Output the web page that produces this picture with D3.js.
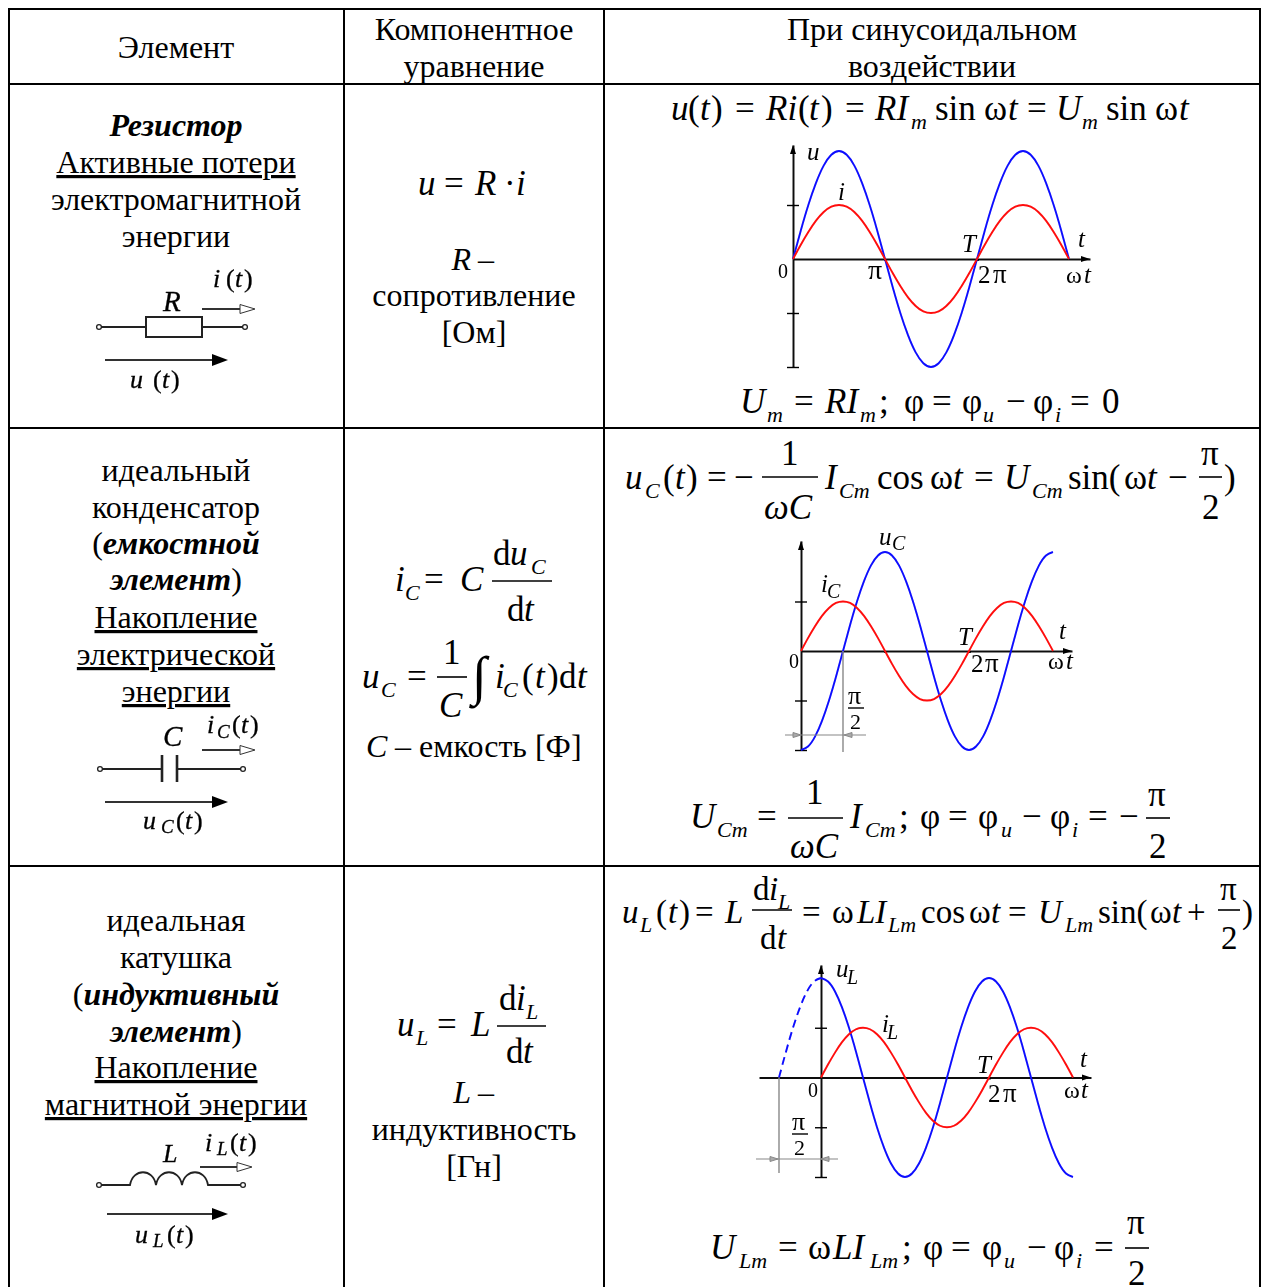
<!DOCTYPE html>
<html>
<head>
<meta charset="utf-8">
<script src="https://cdn.jsdelivr.net/npm/d3@7"></script>
<style>
    html, body { margin: 0; padding: 0; background: #fff; overflow: hidden; }
    text { font-family: "Liberation Serif", serif; fill: #000; }
</style>
</head>
<body>
<div id="wrapper"></div>
<script>
// DATA //
const phaseFull = [0, 15, 30, 45, 60, 75, 90, 105, 120, 135, 150, 165, 180, 195, 210, 225, 240, 255, 270, 285, 300, 315, 330, 345, 360, 375, 390, 405, 420, 435, 450, 465, 480, 495, 510, 525, 540]
const phaseLead = [-90, -75, -60, -45, -30, -15, 0]

const uResistor = [0, 0.52, 1, 1.41, 1.73, 1.93, 2, 1.93, 1.73, 1.41, 1, 0.52, 0, -0.52, -1, -1.41, -1.73, -1.93, -2, -1.93, -1.73, -1.41, -1, -0.52, 0, 0.52, 1, 1.41, 1.73, 1.93, 2, 1.93, 1.73, 1.41, 1, 0.52, 0]
const iResistor = [0, 0.26, 0.5, 0.71, 0.87, 0.97, 1, 0.97, 0.87, 0.71, 0.5, 0.26, 0, -0.26, -0.5, -0.71, -0.87, -0.97, -1, -0.97, -0.87, -0.71, -0.5, -0.26, 0, 0.26, 0.5, 0.71, 0.87, 0.97, 1, 0.97, 0.87, 0.71, 0.5, 0.26, 0]

const uCapacitor = [-2, -1.93, -1.73, -1.41, -1, -0.52, 0, 0.52, 1, 1.41, 1.73, 1.93, 2, 1.93, 1.73, 1.41, 1, 0.52, 0, -0.52, -1, -1.41, -1.73, -1.93, -2, -1.93, -1.73, -1.41, -1, -0.52, 0, 0.52, 1, 1.41, 1.73, 1.93, 2]
const iCapacitor = [0, 0.26, 0.5, 0.71, 0.87, 0.97, 1, 0.97, 0.87, 0.71, 0.5, 0.26, 0, -0.26, -0.5, -0.71, -0.87, -0.97, -1, -0.97, -0.87, -0.71, -0.5, -0.26, 0, 0.26, 0.5, 0.71, 0.87, 0.97, 1, 0.97, 0.87, 0.71, 0.5, 0.26, 0]

const uInductor = [2, 1.93, 1.73, 1.41, 1, 0.52, 0, -0.52, -1, -1.41, -1.73, -1.93, -2, -1.93, -1.73, -1.41, -1, -0.52, 0, 0.52, 1, 1.41, 1.73, 1.93, 2, 1.93, 1.73, 1.41, 1, 0.52, 0, -0.52, -1, -1.41, -1.73, -1.93, -2]
const uInductorLead = [0, 0.52, 1, 1.41, 1.73, 1.93, 2]
const iInductor = [0, 0.26, 0.5, 0.71, 0.87, 0.97, 1, 0.97, 0.87, 0.71, 0.5, 0.26, 0, -0.26, -0.5, -0.71, -0.87, -0.97, -1, -0.97, -0.87, -0.71, -0.5, -0.26, 0, 0.26, 0.5, 0.71, 0.87, 0.97, 1, 0.97, 0.87, 0.71, 0.5, 0.26, 0]

const yTicksResistor = [1, -1, -2]
const yTicksCapacitor = [1, -1, -2]
const yTicksInductor = [1, -1, -2]
const xTicks = [180, 360]

const tableXs = [9, 344, 604, 1260]
const tableYs = [9, 84, 428, 866]

// Set dimensions
const dimensions = { width: 1267, height: 1287 }
const bodySize = 32
const mathSize = 35
const subSize = 22

const svg = d3.select("#wrapper")
    .append("svg")
    .attr("width", dimensions.width)
    .attr("height", dimensions.height)
    .style("display", "block")

const defs = svg.append("defs")
defs.append("filter")
    .attr("id", "soft")
    .attr("x", "-5%").attr("y", "-5%").attr("width", "110%").attr("height", "110%")
    .append("feGaussianBlur")
    .attr("stdDeviation", 0.45)

// TEXT HELPERS //
function label(parent, x, y, str, opts = {}) {
    return parent.append("text")
        .attr("x", x)
        .attr("y", y)
        .attr("text-anchor", opts.anchor || "start")
        .attr("font-size", opts.size || mathSize)
        .attr("font-style", opts.italic ? "italic" : "normal")
        .attr("font-weight", opts.bold ? "bold" : "normal")
        .attr("text-decoration", opts.underline ? "underline" : null)
        .text(str)
}

function center(x, y, str, opts = {}) {
    return label(svg, x, y, str, { size: bodySize, anchor: "middle", ...opts })
}

// runs: [x, text, kind], kinds: r roman, i italic, s subscript
function formula(y, runs, size = mathSize, sub = subSize) {
    runs.forEach(([x, str, kind]) => {
        if (kind == "s") label(svg, x, y + 9, str, { size: sub, italic: true })
        else label(svg, x, y, str, { size: size, italic: kind == "i" })
    })
}

function bar(x1, x2, y) {
    svg.append("line")
        .attr("x1", x1).attr("x2", x2).attr("y1", y).attr("y2", y)
        .attr("stroke", "#000").attr("stroke-width", 1.6)
}

// TABLE GRID //
const grid = svg.append("g")
tableXs.forEach(x => grid.append("line")
    .attr("x1", x).attr("x2", x).attr("y1", 8).attr("y2", dimensions.height)
    .attr("stroke", "#000").attr("stroke-width", 2))
tableYs.forEach(y => grid.append("line")
    .attr("x1", 8).attr("x2", 1261).attr("y1", y).attr("y2", y)
    .attr("stroke", "#000").attr("stroke-width", 2))

// HEADER //
center(176, 58, "Элемент")
center(474, 40, "Компонентное")
center(474, 77, "уравнение")
center(932, 40, "При синусоидальном")
center(932, 77, "воздействии")

// FIRST COLUMN //
center(176, 136, "Резистор", { bold: true, italic: true })
center(176, 173, "Активные потери", { underline: true })
center(176, 210, "электромагнитной")
center(176, 247, "энергии")

center(176, 481, "идеальный")
center(176, 518, "конденсатор")
const capLine = center(176, 554, "(")
capLine.append("tspan").attr("font-weight", "bold").attr("font-style", "italic").text("емкостной")
center(176, 590, "элемент", { bold: true, italic: true })
    .append("tspan").attr("font-weight", "normal").attr("font-style", "normal").text(")")
center(176, 628, "Накопление", { underline: true })
center(176, 665, "электрической", { underline: true })
center(176, 702, "энергии", { underline: true })

center(176, 931, "идеальная")
center(176, 968, "катушка")
const indLine = center(176, 1005, "(")
indLine.append("tspan").attr("font-weight", "bold").attr("font-style", "italic").text("индуктивный")
center(176, 1042, "элемент", { bold: true, italic: true })
    .append("tspan").attr("font-weight", "normal").attr("font-style", "normal").text(")")
center(176, 1078, "Накопление", { underline: true })
center(176, 1115, "магнитной энергии", { underline: true })

// SECOND COLUMN //
formula(195, [[418, "u", "i"], [444, "=", "r"], [475, "R", "i"], [504, "·", "r"], [516, "i", "i"]])
center(474, 270, "R", { italic: true, anchor: "end" }).attr("x", 471)
label(svg, 478, 270, "–", { size: bodySize })
center(474, 306, "сопротивление")
center(474, 343, "[Ом]")

formula(591, [[395, "i", "i"], [405, "C", "s"], [424, "=", "r"], [460, "C", "i"]])
formula(565, [[493, "d", "r"], [510, "u", "i"], [531, "C", "s"]])
bar(492, 552, 581)
formula(621, [[507, "d", "r"], [524, "t", "i"]])

formula(688, [[362, "u", "i"], [381, "C", "s"], [407, "=", "r"],
    [495, "i", "i"], [503, "C", "s"], [522, "(", "r"], [535, "t", "i"], [547, ")", "r"], [559, "d", "r"], [577, "t", "i"]])
formula(664, [[443, "1", "r"]])
bar(437, 467, 677)
formula(717, [[439, "C", "i"]])
label(svg, 472, 694, "∫", { size: 54, italic: true })
label(svg, 366, 757, "C", { size: bodySize, italic: true })
label(svg, 395, 757, "– емкость [Ф]", { size: bodySize })

formula(1036, [[397, "u", "i"], [416, "L", "s"], [437, "=", "r"], [471, "L", "i"]])
formula(1010, [[499, "d", "r"], [516, "i", "i"], [526, "L", "s"]])
bar(497, 546, 1026)
formula(1063, [[506, "d", "r"], [523, "t", "i"]])
center(474, 1103, "L", { italic: true, anchor: "end" }).attr("x", 471)
label(svg, 478, 1103, "–", { size: bodySize })
center(474, 1140, "индуктивность")
center(474, 1177, "[Гн]")

// THIRD COLUMN FORMULAS //
formula(120, [[671, "u", "i"], [688, "(", "r"], [700, "t", "i"], [711, ")", "r"], [735, "=", "r"],
    [766, "Ri", "i"], [798, "(", "r"], [809, "t", "i"], [821, ")", "r"], [845, "=", "r"],
    [875, "RI", "i"], [911, "m", "s"], [935, "sin", "r"], [984, "ω", "r"], [1008, "t", "i"],
    [1027, "=", "r"], [1056, "U", "i"], [1082, "m", "s"], [1106, "sin", "r"], [1155, "ω", "r"], [1179, "t", "i"]])

formula(413, [[740, "U", "i"], [767, "m", "s"], [794, "=", "r"], [825, "RI", "i"], [860, "m", "s"], [879, ";", "r"],
    [904, "φ", "r"], [932, "=", "r"], [962, "φ", "r"], [983, "u", "s"], [1006, "−", "r"], [1033, "φ", "r"], [1055, "i", "s"],
    [1070, "=", "r"], [1102, "0", "r"]])

formula(489, [[625, "u", "i"], [645, "C", "s"], [663, "(", "r"], [675, "t", "i"], [686, ")", "r"], [707, "=", "r"], [734, "−", "r"],
    [825, "I", "i"], [839, "Cm", "s"], [877, "cos", "r"], [930, "ω", "r"], [953, "t", "i"], [974, "=", "r"],
    [1004, "U", "i"], [1032, "Cm", "s"], [1068, "sin(", "r"], [1124, "ω", "r"], [1147, "t", "i"], [1168, "−", "r"], [1224, ")", "r"]])
formula(465, [[781, "1", "r"], [1201, "π", "r"]])
bar(762, 818, 477)
bar(1199, 1222, 477)
formula(519, [[764, "ωC", "i"], [1202, "2", "r"]])

formula(828, [[690, "U", "i"], [717, "Cm", "s"], [757, "=", "r"], [850, "I", "i"], [865, "Cm", "s"], [899, ";", "r"],
    [920, "φ", "r"], [948, "=", "r"], [978, "φ", "r"], [1001, "u", "s"], [1022, "−", "r"], [1050, "φ", "r"], [1072, "i", "s"],
    [1088, "=", "r"], [1119, "−", "r"]])
formula(804, [[806, "1", "r"]])
formula(806, [[1148, "π", "r"]])
bar(788, 843, 818)
bar(1146, 1170, 818)
formula(858, [[790, "ωC", "i"], [1149, "2", "r"]])

formula(923, [[622, "u", "i"], [640, "L", "s"], [656, "(", "r"], [668, "t", "i"], [679, ")", "r"], [695, "=", "r"], [725, "L", "i"],
    [802, "=", "r"], [832, "ω", "r"], [857, "LI", "i"], [888, "Lm", "s"], [921, "cos", "r"], [969, "ω", "r"], [991, "t", "i"], [1008, "=", "r"],
    [1038, "U", "i"], [1065, "Lm", "s"], [1098, "sin(", "r"], [1150, "ω", "r"], [1172, "t", "i"], [1187, "+", "r"], [1242, ")", "r"]], 33)
formula(900, [[753, "d", "r"], [769, "i", "i"], [778, "L", "s"], [1220, "π", "r"]], 33)
bar(752, 792, 910)
bar(1218, 1240, 910)
formula(949, [[760, "d", "r"], [777, "t", "i"], [1221, "2", "r"]], 33)

formula(1259, [[710, "U", "i"], [739, "Lm", "s"], [778, "=", "r"], [808, "ω", "r"], [833, "LI", "i"], [870, "Lm", "s"], [902, ";", "r"],
    [923, "φ", "r"], [951, "=", "r"], [982, "φ", "r"], [1004, "u", "s"], [1027, "−", "r"], [1054, "φ", "r"], [1076, "i", "s"], [1094, "=", "r"]])
formula(1234, [[1127, "π", "r"]])
bar(1125, 1149, 1248)
formula(1285, [[1128, "2", "r"]])

// PLOTS //
const soft = svg.append("g").attr("filter", "url(#soft)")

function smallText(parent, x, y, str, italic, size = 25) {
    return label(parent, x, y, str, { size: size, italic: italic })
}

function triangle(parent, pts, fill = "#000", stroke = "none") {
    parent.append("path")
        .attr("d", d3.line()(pts) + "Z")
        .attr("fill", fill)
        .attr("stroke", stroke)
}

function drawPlot(cfg) {
    const g = soft.append("g")
    const xScale = d3.scaleLinear().domain([0, 360]).range([cfg.x0, cfg.x360])
    const yScale = d3.scaleLinear().domain([-2, 2]).range([cfg.yBottom, cfg.yTop])
    const yZero = yScale(0)

    const xAxisScale = xScale.copy()
        .domain([xScale.invert(cfg.xAxisStart), xScale.invert(cfg.xAxisEnd)])
        .range([cfg.xAxisStart, cfg.xAxisEnd])
    const yAxisScale = yScale.copy()
        .domain([-2, yScale.invert(cfg.yAxisTop)])
        .range([cfg.yBottom, cfg.yAxisTop])

    const xAxis = g.append("g")
        .attr("transform", `translate(0, ${yZero})`)
        .call(d3.axisBottom(xAxisScale).tickValues(xTicks).tickFormat("").tickSizeInner(2).tickSizeOuter(0))
    const yAxis = g.append("g")
        .attr("transform", `translate(${cfg.x0}, 0)`)
        .call(d3.axisLeft(yAxisScale).tickValues(cfg.yTicks).tickFormat("").tickSizeInner(6).tickSizeOuter(0))
    yAxis.selectAll(".tick line").attr("x2", 6).attr("x1", -6).attr("stroke-width", 1.4)
    g.selectAll(".domain").attr("stroke-width", 2).attr("stroke", "#111")
    xAxis.selectAll(".tick line").attr("stroke-width", 2.5)

    // axis arrows
    const top = cfg.yAxisTop, end = cfg.xAxisEnd
    triangle(g, [[cfg.x0 - 3, top + 9], [cfg.x0, top], [cfg.x0 + 3, top + 9]])
    triangle(g, [[end - 9, yZero - 3], [end, yZero], [end - 9, yZero + 3]])

    const line = d3.line()
        .x(d => xScale(d[0]))
        .y(d => yScale(d[1]))
        .curve(d3.curveNatural)

    g.append("path")
        .attr("d", line(d3.zip(phaseFull, cfg.u)))
        .attr("fill", "none").attr("stroke", "#0a0aff").attr("stroke-width", 1.9)
    g.append("path")
        .attr("d", line(d3.zip(phaseFull, cfg.i)))
        .attr("fill", "none").attr("stroke", "#ff0a0a").attr("stroke-width", 1.9)
    if (cfg.uLead) {
        g.append("path")
            .attr("d", line(d3.zip(phaseLead, cfg.uLead)))
            .attr("fill", "none").attr("stroke", "#0a0aff").attr("stroke-width", 1.9)
            .attr("stroke-dasharray", "8 5")
    }
    cfg.labels.forEach(([x, y, str, italic, size]) => smallText(g, x, y, str, italic, size))
    return { g, xScale, yScale }
}

function dimension(g, tipLeft, tipRight, y, from, to) {
    g.append("line").attr("x1", from).attr("x2", to).attr("y1", y).attr("y2", y)
        .attr("stroke", "#888").attr("stroke-width", 1.2)
    triangle(g, [[tipLeft - 8, y - 2.5], [tipLeft, y], [tipLeft - 8, y + 2.5]], "#aaa", "#888")
    triangle(g, [[tipRight + 8, y - 2.5], [tipRight, y], [tipRight + 8, y + 2.5]], "#aaa", "#888")
}

function greyLine(g, x, y1, y2) {
    g.append("line").attr("x1", x).attr("x2", x).attr("y1", y1).attr("y2", y2)
        .attr("stroke", "#888").attr("stroke-width", 1.4)
}

function halfPi(g, x, yBar) {
    smallText(g, x - 8, yBar - 4, "π", false, 26)
    g.append("line").attr("x1", x - 8).attr("x2", x + 8).attr("y1", yBar).attr("y2", yBar)
        .attr("stroke", "#000").attr("stroke-width", 1.4)
    smallText(g, x - 6, yBar + 21, "2", false, 22)
}

drawPlot({
    x0: 793, x360: 977, yBottom: 367, yTop: 151,
    xAxisStart: 793, xAxisEnd: 1090, yAxisTop: 145,
    yTicks: yTicksResistor, u: uResistor, i: iResistor,
    labels: [
        [807, 160, "u", true], [838, 200, "i", true], [778, 278, "0", false, 20], [868, 279, "π", false, 28],
        [962, 252, "T", true], [978, 283, "2", false], [993, 283, "π", false, 27], [1078, 247, "t", true], [1066, 283, "ω", false, 24], [1084, 283, "t", true],
    ],
})

const capPlot = drawPlot({
    x0: 801, x360: 969, yBottom: 750, yTop: 552,
    xAxisStart: 801, xAxisEnd: 1072, yAxisTop: 541,
    yTicks: yTicksCapacitor, u: uCapacitor, i: iCapacitor,
    labels: [
        [879, 545, "u", true], [892, 550, "C", true, 20], [821, 592, "i", true], [827, 598, "C", true, 20],
        [789, 668, "0", false, 20], [958, 645, "T", true], [1059, 639, "t", true],
        [971, 672, "2", false], [985, 672, "π", false, 27], [1048, 669, "ω", false, 24], [1066, 669, "t", true],
    ],
})
greyLine(capPlot.g, capPlot.xScale(90), capPlot.yScale(0), 752)
dimension(capPlot.g, 801, 844, 735, 785, 866)
halfPi(capPlot.g, 856, 708)

const indPlot = drawPlot({
    x0: 821, x360: 989, yBottom: 1177, yTop: 978,
    xAxisStart: 759, xAxisEnd: 1091, yAxisTop: 965,
    yTicks: yTicksInductor, u: uInductor, i: iInductor, uLead: uInductorLead,
    labels: [
        [836, 977, "u", true], [847, 984, "L", true, 20], [882, 1032, "i", true], [887, 1039, "L", true, 20],
        [808, 1097, "0", false, 20], [977, 1073, "T", true], [1080, 1067, "t", true],
        [988, 1102, "2", false], [1003, 1102, "π", false, 27], [1064, 1098, "ω", false, 24], [1081, 1098, "t", true],
    ],
})
greyLine(indPlot.g, indPlot.xScale(-90), indPlot.yScale(0), 1173)
dimension(indPlot.g, 778, 821, 1159, 756, 838)
halfPi(indPlot.g, 800, 1134)

// CIRCUIT SYMBOLS //
const wireColor = "#222"

function wire(g, pts, width = 1.8, color = wireColor) {
    g.append("path").attr("d", d3.line()(pts)).attr("fill", "none").attr("stroke", color).attr("stroke-width", width)
}

function terminal(g, x, y) {
    g.append("circle").attr("cx", x).attr("cy", y).attr("r", 2.4)
        .attr("fill", "#fff").attr("stroke", wireColor).attr("stroke-width", 1.3)
}

function currentArrow(g, x1, x2, xHead, y) {
    wire(g, [[x1, y], [x2, y]], 2, "#333")
    triangle(g, [[x2, y - 4.5], [xHead, y], [x2, y + 4.5]], "#fff", "#333")
}

function voltageArrow(g, x1, x2, y) {
    wire(g, [[x1, y], [x2 - 14, y]], 2.2, "#333")
    triangle(g, [[x2 - 16, y - 6], [x2, y], [x2 - 16, y + 6]])
}

function circuitText(g, x, y, str, size = 26) {
    return label(g, x, y, str, { size: size, italic: true })
        .attr("stroke", "#000").attr("stroke-width", 0.3)
}

function paren(g, x, y, str) {
    return label(g, x, y, str, { size: 26 })
        .attr("stroke", "#000").attr("stroke-width", 0.3)
}

const rc = soft.append("g")
terminal(rc, 99, 327)
wire(rc, [[101, 327], [146, 327]])
rc.append("rect").attr("x", 146).attr("y", 317).attr("width", 56).attr("height", 20)
    .attr("fill", "none").attr("stroke", wireColor).attr("stroke-width", 2)
wire(rc, [[202, 327], [243, 327]])
terminal(rc, 245, 327)
circuitText(rc, 163, 311, "R", 29)
currentArrow(rc, 202, 240, 255, 309)
voltageArrow(rc, 105, 228, 360)
circuitText(rc, 213, 287, "i")
paren(rc, 226, 287, "(")
circuitText(rc, 235, 287, "t")
paren(rc, 244, 287, ")")
circuitText(rc, 130, 388, "u")
paren(rc, 153, 388, "(")
circuitText(rc, 162, 388, "t")
paren(rc, 171, 388, ")")

const cc = soft.append("g")
terminal(cc, 100, 769)
wire(cc, [[102, 769], [162, 769]])
wire(cc, [[162, 755], [162, 782]], 2.6)
wire(cc, [[177, 755], [177, 782]], 2.6)
wire(cc, [[177, 769], [241, 769]])
terminal(cc, 243, 769)
circuitText(cc, 163, 746, "C", 29)
currentArrow(cc, 202, 240, 255, 750)
voltageArrow(cc, 105, 228, 802)
circuitText(cc, 207, 733, "i")
circuitText(cc, 217, 738, "C", 19)
paren(cc, 232, 733, "(")
circuitText(cc, 241, 733, "t")
paren(cc, 250, 733, ")")
circuitText(cc, 143, 829, "u")
circuitText(cc, 161, 833, "C", 19)
paren(cc, 176, 829, "(")
circuitText(cc, 185, 829, "t")
paren(cc, 194, 829, ")")

const lc = soft.append("g")
terminal(lc, 99, 1185)
const coilStart = 130, coilWidth = 26
const coil = d3.path()
coil.moveTo(101, 1185)
coil.lineTo(coilStart, 1185)
for (let k = 0; k < 3; k++) {
    const x = coilStart + k * coilWidth
    coil.bezierCurveTo(x + 3, 1168, x + coilWidth - 3, 1168, x + coilWidth, 1185)
}
coil.lineTo(243, 1185)
lc.append("path").attr("d", coil.toString()).attr("fill", "none").attr("stroke", wireColor).attr("stroke-width", 1.8)
terminal(lc, 243, 1185)
circuitText(lc, 163, 1162, "L")
currentArrow(lc, 200, 237, 252, 1167)
voltageArrow(lc, 107, 228, 1214)
circuitText(lc, 205, 1151, "i")
circuitText(lc, 217, 1155, "L", 19)
paren(lc, 230, 1151, "(")
circuitText(lc, 239, 1151, "t")
paren(lc, 248, 1151, ")")
circuitText(lc, 135, 1243, "u")
circuitText(lc, 153, 1247, "L", 19)
paren(lc, 167, 1243, "(")
circuitText(lc, 176, 1243, "t")
paren(lc, 185, 1243, ")")
</script>
</body>
</html>
